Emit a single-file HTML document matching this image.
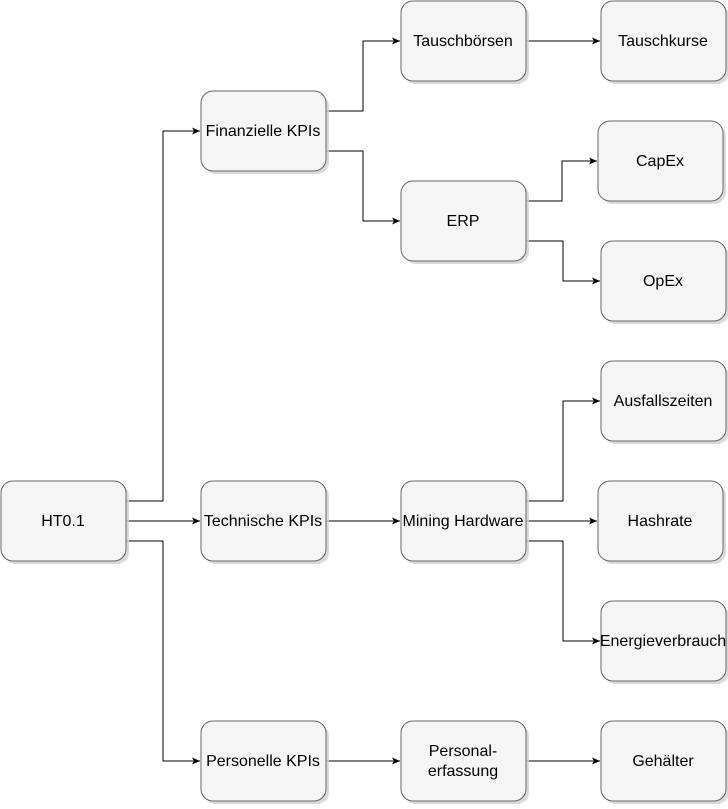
<!DOCTYPE html>
<html><head><meta charset="utf-8"><style>
html,body{margin:0;padding:0;background:#fff;}
text{font-family:"Liberation Sans",sans-serif;font-size:16px;fill:#000;}
</style></head><body>
<svg width="728" height="804" viewBox="0 0 728 804" xmlns="http://www.w3.org/2000/svg">
<defs>
<marker id="a" markerWidth="10" markerHeight="10" refX="9" refY="5" orient="auto" markerUnits="userSpaceOnUse">
<path d="M1,1.5 L9,5 L1,8.5 L3,5 Z" fill="#000"/>
</marker>
</defs>
<g fill="none" stroke="#000" stroke-width="1" marker-end="url(#a)">
<path d="M126,501 H163 V131 H200"/>
<path d="M126,521 H200"/>
<path d="M126,541 H163 V761 H200"/>
<path d="M326,111 H363 V41 H400"/>
<path d="M326,151 H363 V221 H400"/>
<path d="M526,41 H600"/>
<path d="M526,201 H562 V161 H597"/>
<path d="M526,241 H563 V281 H600"/>
<path d="M326,521 H400"/>
<path d="M526,501 H563 V401 H600"/>
<path d="M526,521 H597"/>
<path d="M526,541 H563 V641 H600"/>
<path d="M326,761 H400"/>
<path d="M526,761 H600"/>
</g>
<g stroke="#666" fill="#f5f5f5">
<g fill="#d0d0d0" stroke="none" opacity="0.8">
<rect x="4" y="484" width="125" height="80" rx="12"/>
<rect x="204" y="94" width="125" height="80" rx="12"/>
<rect x="204" y="484" width="125" height="80" rx="12"/>
<rect x="204" y="724" width="125" height="80" rx="12"/>
<rect x="404" y="4" width="125" height="80" rx="12"/>
<rect x="404" y="184" width="125" height="80" rx="12"/>
<rect x="404" y="484" width="125" height="80" rx="12"/>
<rect x="404" y="724" width="125" height="80" rx="12"/>
<rect x="604" y="4" width="125" height="80" rx="12"/>
<rect x="601" y="124" width="125" height="80" rx="12"/>
<rect x="604" y="244" width="125" height="80" rx="12"/>
<rect x="604" y="364" width="125" height="80" rx="12"/>
<rect x="601" y="484" width="125" height="80" rx="12"/>
<rect x="604" y="604" width="125" height="80" rx="12"/>
<rect x="604" y="724" width="125" height="80" rx="12"/>
</g>
<rect x="1" y="481" width="125" height="80" rx="12"/>
<rect x="201" y="91" width="125" height="80" rx="12"/>
<rect x="201" y="481" width="125" height="80" rx="12"/>
<rect x="201" y="721" width="125" height="80" rx="12"/>
<rect x="401" y="1" width="125" height="80" rx="12"/>
<rect x="401" y="181" width="125" height="80" rx="12"/>
<rect x="401" y="481" width="125" height="80" rx="12"/>
<rect x="401" y="721" width="125" height="80" rx="12"/>
<rect x="601" y="1" width="125" height="80" rx="12"/>
<rect x="598" y="121" width="125" height="80" rx="12"/>
<rect x="601" y="241" width="125" height="80" rx="12"/>
<rect x="601" y="361" width="125" height="80" rx="12"/>
<rect x="598" y="481" width="125" height="80" rx="12"/>
<rect x="601" y="601" width="125" height="80" rx="12"/>
<rect x="601" y="721" width="125" height="80" rx="12"/>
</g>
<g text-anchor="middle">
<text x="63" y="526">HT0.1</text>
<text x="263" y="136">Finanzielle KPIs</text>
<text x="263" y="526">Technische KPIs</text>
<text x="263" y="766">Personelle KPIs</text>
<text x="463" y="46">Tauschbörsen</text>
<text x="463" y="226">ERP</text>
<text x="463" y="526">Mining Hardware</text>
<text x="463" y="756">Personal-</text>
<text x="463" y="776">erfassung</text>
<text x="663" y="46">Tauschkurse</text>
<text x="660" y="166">CapEx</text>
<text x="663" y="286">OpEx</text>
<text x="663" y="406">Ausfallszeiten</text>
<text x="660" y="526">Hashrate</text>
<text x="663" y="646">Energieverbrauch</text>
<text x="663" y="766">Gehälter</text>
</g>
</svg>
</body></html>
